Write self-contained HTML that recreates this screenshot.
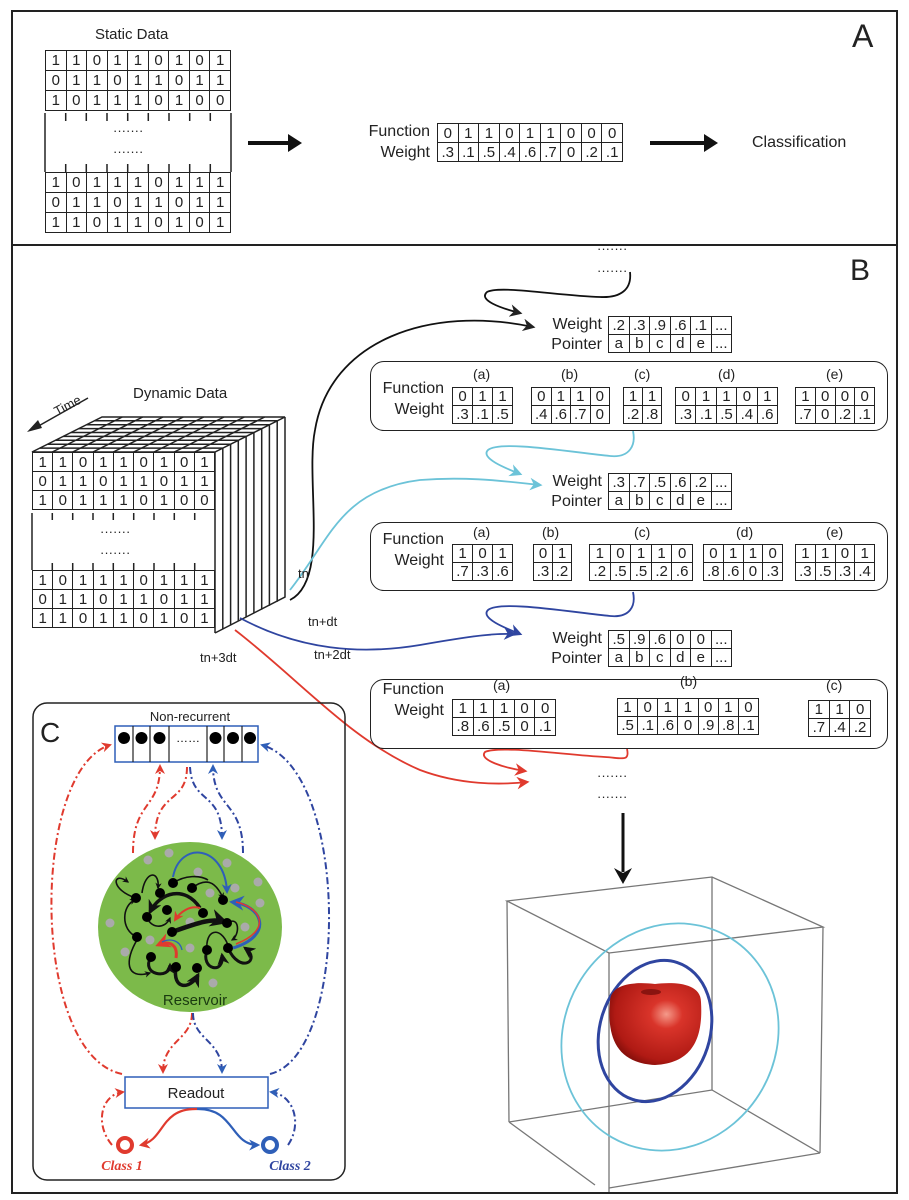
<!DOCTYPE html>
<html><head><meta charset="utf-8"><style>
body{margin:0;background:#fff}
#p{position:relative;width:909px;height:1200px;overflow:hidden;font-family:"Liberation Sans Narrow","Liberation Sans",sans-serif;color:#222}
svg{position:absolute;left:0;top:0}
table{position:absolute;border-collapse:collapse;table-layout:fixed}
td{border:1.5px solid #222;padding:0;text-align:center;font-size:15px;line-height:1;overflow:hidden}
.l{position:absolute;font-size:16px;white-space:nowrap}
.r{text-align:right}
.bx{position:absolute;border:1.5px solid #222;border-radius:14px}
</style></head><body><div id="p">
<svg width="909" height="1200" viewBox="0 0 909 1200">
<defs>
<marker id="ak" viewBox="0 0 10 10" refX="8" refY="5" markerWidth="7" markerHeight="7" orient="auto"><path d="M0,0L10,5L0,10L3,5z" fill="#222"/></marker>
<marker id="ac" viewBox="0 0 10 10" refX="8" refY="5" markerWidth="7" markerHeight="7" orient="auto"><path d="M0,0L10,5L0,10L3,5z" fill="#6cc3d8"/></marker>
<marker id="ab" viewBox="0 0 10 10" refX="8" refY="5" markerWidth="7" markerHeight="7" orient="auto"><path d="M0,0L10,5L0,10L3,5z" fill="#2f45a0"/></marker>
<marker id="ar" viewBox="0 0 10 10" refX="8" refY="5" markerWidth="7" markerHeight="7" orient="auto"><path d="M0,0L10,5L0,10L3,5z" fill="#e03a2e"/></marker>
<marker id="aB" viewBox="0 0 10 10" refX="8" refY="5" markerWidth="5" markerHeight="5" orient="auto"><path d="M0,0L10,5L0,10L3,5z" fill="#2f5fb8"/></marker>
<marker id="aR" viewBox="0 0 10 10" refX="8" refY="5" markerWidth="5" markerHeight="5" orient="auto"><path d="M0,0L10,5L0,10L3,5z" fill="#e03a2e"/></marker>
<marker id="as" viewBox="0 0 10 10" refX="8" refY="5" markerWidth="4" markerHeight="4" orient="auto"><path d="M0,0L10,5L0,10L3,5z" fill="#111"/></marker>
<radialGradient id="ap" cx="0.62" cy="0.38" r="0.7"><stop offset="0" stop-color="#f59a8a"/><stop offset="0.25" stop-color="#d9342a"/><stop offset="0.8" stop-color="#b01a14"/><stop offset="1" stop-color="#7a0c08"/></radialGradient>
</defs>
<rect x="12" y="11" width="885" height="234" fill="none" stroke="#222" stroke-width="2"/>
<rect x="12" y="245" width="885" height="948" fill="none" stroke="#222" stroke-width="2"/>
<g stroke="#222" stroke-width="1.5">
<line x1="45" y1="113" x2="45" y2="172"/><line x1="231" y1="113" x2="231" y2="172"/>
<path d="M65.7,113v8M86.3,113v8M107,113v8M127.7,113v8M148.3,113v8M169,113v8M189.7,113v8M210.3,113v8M65.7,172v-8M86.3,172v-8M107,172v-8M127.7,172v-8M148.3,172v-8M169,172v-8M189.7,172v-8M210.3,172v-8"/>
<line x1="32" y1="513" x2="32" y2="570"/>
<path d="M52.3,513v7M72.7,513v7M93,513v7M113.3,513v7M133.7,513v7M154,513v7M174.3,513v7M194.7,513v7M52.3,570v-7M72.7,570v-7M93,570v-7M113.3,570v-7M133.7,570v-7M154,570v-7M174.3,570v-7M194.7,570v-7"/>
</g>
<g stroke="#111" stroke-width="4"><line x1="248" y1="143" x2="292" y2="143"/><line x1="650" y1="143" x2="708" y2="143"/></g>
<path d="M288,134L302,143L288,152z M704,134L718,143L704,152z" fill="#111"/>
<g stroke="#222" stroke-width="1.5" fill="none">
<path d="M32,452L102,417L285,417L215,452z"/>
<path d="M52.3,452l70,-35M72.7,452l70,-35M93,452l70,-35M113.3,452l70,-35M133.7,452l70,-35M154,452l70,-35M174.3,452l70,-35M194.7,452l70,-35"/>
<path d="M39.8,448.1h183M47.6,444.2h183M55.3,440.3h183M63.1,436.4h183M70.9,432.5h183M78.7,428.6h183M86.4,424.7h183M94.2,420.8h183"/>
<path d="M285,417L285,597L215,633"/>
<path d="M222.8,448.1v181M230.6,444.2v181M238.3,440.3v181M246.1,436.4v181M253.9,432.5v181M261.7,428.6v181M269.4,424.7v181M277.2,420.8v181"/>
<line x1="215" y1="452" x2="215" y2="633"/>
<line x1="88" y1="398" x2="35" y2="428"/>
</g>
<path d="M27,432L38,420L42,428z" fill="#222"/>
<g fill="none" stroke-width="1.8">
<path d="M630,272C632,290 620,298 600,297C560,296 500,285 487,292C478,300 500,308 520,313" stroke="#111" marker-end="url(#ak)"/>
<path d="M290,600C330,580 305,480 315,430C330,340 430,305 533,327" stroke="#111" marker-end="url(#ak)"/>
<path d="M633,431C636,445 630,458 610,456C570,452 500,440 488,450C480,458 505,468 520,474" stroke="#6cc3d8" marker-end="url(#ac)"/>
<path d="M290,590C330,540 340,490 420,480C470,476 510,482 540,485" stroke="#6cc3d8" marker-end="url(#ac)"/>
<path d="M633,592C636,606 630,618 610,616C570,612 500,600 488,610C480,618 505,628 520,634" stroke="#2f45a0" marker-end="url(#ab)"/>
<path d="M240,618C300,650 360,655 420,645C460,638 490,633 514,634" stroke="#2f45a0" marker-end="url(#ab)"/>
<path d="M627,749C630,762 622,758 605,757C565,755 500,745 485,752C478,760 505,768 525,771" stroke="#e03a2e" marker-end="url(#ar)"/>
<path d="M235,630C300,680 350,740 420,770C460,785 500,785 527,782" stroke="#e03a2e" marker-end="url(#ar)"/>
</g>
<line x1="623" y1="813" x2="623" y2="872" stroke="#111" stroke-width="3"/>
<path d="M614,868L623,884L632,868L623,873z" fill="#111"/>
<g stroke="#777" stroke-width="1.3" fill="none">
<path d="M507,901L712,877L823,927L609,953z"/>
<path d="M507,901L509,1122M609,953L609,1192M712,877L712,1090M823,927L820,1153"/>
<path d="M509,1122L712,1090L820,1153M509,1122L595,1185M609,1188L820,1153"/>
</g>
<ellipse cx="670" cy="1037" rx="106" ry="116" transform="rotate(30 670 1037)" fill="none" stroke="#6cc3d8" stroke-width="1.8"/>
<ellipse cx="655" cy="1031" rx="55" ry="72" transform="rotate(18 655 1031)" fill="none" stroke="#2f45a0" stroke-width="3"/>
<path d="M610,1002C610,982 638,982 655,984C672,982 701,982 701,1002C703,1035 695,1063 655,1065C615,1063 607,1035 610,1002z" fill="url(#ap)"/>
<ellipse cx="651" cy="992" rx="10" ry="3" fill="#8a1410"/>
<rect x="33" y="703" width="312" height="477" rx="14" fill="none" stroke="#222" stroke-width="1.5"/>
<rect x="115" y="726" width="143" height="36" fill="#fff" stroke="#2f5fb8" stroke-width="1.5"/>
<path d="M133,726v36M150,726v36M169,726v36M207,726v36M224,726v36M242,726v36" stroke="#222" stroke-width="1.2"/>
<g fill="#000"><circle cx="124" cy="738" r="6"/><circle cx="141.5" cy="738" r="6"/><circle cx="159.5" cy="738" r="6"/><circle cx="215.5" cy="738" r="6"/><circle cx="233" cy="738" r="6"/><circle cx="250" cy="738" r="6"/></g>
<text x="188" y="742" font-size="12" text-anchor="middle" font-family="Liberation Sans">……</text>
<ellipse cx="190" cy="927" rx="92" ry="85" fill="#7cba4a"/>
<g fill="#aaa"><circle cx="148" cy="860" r="4.5"/><circle cx="169" cy="853" r="4.5"/><circle cx="227" cy="863" r="4.5"/><circle cx="198" cy="872" r="4.5"/><circle cx="210" cy="893" r="4.5"/><circle cx="235" cy="888" r="4.5"/><circle cx="258" cy="882" r="4.5"/><circle cx="260" cy="903" r="4.5"/><circle cx="110" cy="923" r="4.5"/><circle cx="150" cy="940" r="4.5"/><circle cx="190" cy="922" r="4.5"/><circle cx="190" cy="948" r="4.5"/><circle cx="125" cy="952" r="4.5"/><circle cx="245" cy="927" r="4.5"/><circle cx="213" cy="983" r="4.5"/></g>
<g fill="none" stroke="#111" stroke-width="1.6">
<path d="M136,898C110,890 112,870 128,882" marker-end="url(#as)"/>
<path d="M142,893C145,870 160,870 158,888" marker-end="url(#as)"/>
<path d="M192,888C205,878 215,880 223,898" marker-end="url(#as)"/>
<path d="M173,883C185,875 200,875 208,880"/>
<path d="M200,908C185,885 160,892 150,912" stroke-width="3.5" marker-end="url(#as)"/>
<path d="M172,932C200,922 212,918 225,922" stroke-width="4.5" marker-end="url(#as)"/>
<path d="M137,937C120,930 122,905 135,900" marker-end="url(#as)"/>
<path d="M137,940C125,960 125,980 150,973" marker-end="url(#as)"/>
<path d="M151,957C140,975 170,980 170,965" stroke-width="3" marker-end="url(#as)"/>
<path d="M176,967C172,990 190,990 198,975" stroke-width="3.5" marker-end="url(#as)"/>
<path d="M207,950C200,970 225,975 222,955" stroke-width="3" marker-end="url(#as)"/>
<path d="M228,948C240,975 262,960 245,948" stroke-width="3" marker-end="url(#as)"/>
<path d="M227,923C240,915 240,935 232,940" marker-end="url(#as)"/>
<path d="M147,917C150,928 165,930 170,918" marker-end="url(#as)"/>
<path d="M207,950C205,930 220,925 228,945"/>
</g>
<g fill="#000"><circle cx="136" cy="898" r="5"/><circle cx="160" cy="893" r="5"/><circle cx="173" cy="883" r="5"/><circle cx="192" cy="888" r="5"/><circle cx="223" cy="900" r="5"/><circle cx="147" cy="917" r="5"/><circle cx="167" cy="910" r="5"/><circle cx="203" cy="913" r="5"/><circle cx="172" cy="932" r="5"/><circle cx="137" cy="937" r="5"/><circle cx="227" cy="923" r="5"/><circle cx="207" cy="950" r="5"/><circle cx="228" cy="948" r="5"/><circle cx="151" cy="957" r="5"/><circle cx="176" cy="967" r="5"/><circle cx="197" cy="968" r="5"/></g>
<g fill="none" stroke-width="2">
<path d="M173,877C180,840 225,845 227,892" stroke="#2f5fb8" marker-end="url(#aB)"/>
<path d="M233,948C275,935 262,905 232,902" stroke="#2f5fb8" stroke-width="3" marker-end="url(#aB)"/>
<path d="M236,944C272,930 262,908 236,902" stroke="#e03a2e" stroke-width="1.5"/>
<path d="M200,908C190,905 180,912 175,920" stroke="#e03a2e" marker-end="url(#aR)"/>
<path d="M176,958C178,945 170,940 158,945" stroke="#e03a2e" stroke-width="3" marker-end="url(#aR)"/>
<path d="M182,950C180,940 170,938 162,942" stroke="#2f5fb8" stroke-width="1.3"/>
</g>
<rect x="125" y="1077" width="143" height="31" fill="#fff" stroke="#2f5fb8" stroke-width="1.5"/>
<g fill="none" stroke-width="2" stroke-dasharray="7,3,2,3">
<path d="M122,1074C30,1055 30,770 110,745" stroke="#e03a2e" marker-end="url(#aR)"/>
<path d="M270,1074C350,1055 350,770 262,745" stroke="#2f45a0" marker-end="url(#aB)"/>
<path d="M133,853C133,800 160,810 160,766" stroke="#e03a2e" marker-end="url(#aR)"/>
<path d="M187,767C187,805 155,790 155,838" stroke="#e03a2e" marker-end="url(#aR)"/>
<path d="M190,767C192,805 222,790 222,838" stroke="#2f45a0" marker-end="url(#aB)"/>
<path d="M243,853C243,800 213,810 213,766" stroke="#2f45a0" marker-end="url(#aB)"/>
<path d="M192,1013C192,1040 163,1040 163,1072" stroke="#e03a2e" marker-end="url(#aR)"/>
<path d="M193,1013C193,1040 222,1040 222,1072" stroke="#2f45a0" marker-end="url(#aB)"/>
<path d="M112,1145C95,1125 100,1095 123,1092" stroke="#e03a2e" marker-end="url(#aR)"/>
<path d="M288,1145C302,1125 295,1095 271,1092" stroke="#2f45a0" marker-end="url(#aB)"/>
</g>
<g fill="none" stroke-width="2.2">
<path d="M197,1109C160,1108 165,1140 141,1145" stroke="#e03a2e" marker-end="url(#aR)"/>
<path d="M197,1109C235,1108 230,1145 258,1145" stroke="#2f5fb8" marker-end="url(#aB)"/>
</g>
<circle cx="125" cy="1145" r="7" fill="#fff" stroke="#e03a2e" stroke-width="4"/>
<circle cx="270" cy="1145" r="7" fill="#fff" stroke="#2f5fb8" stroke-width="4"/>
<text x="122" y="1170" font-family="Liberation Serif" font-style="italic" font-weight="bold" font-size="14" fill="#e03a2e" text-anchor="middle">Class 1</text>
<text x="290" y="1170" font-family="Liberation Serif" font-style="italic" font-weight="bold" font-size="14" fill="#2f45a0" text-anchor="middle">Class 2</text>
<text x="196" y="1098" font-family="Liberation Sans" font-size="15" text-anchor="middle" fill="#222">Readout</text>
<text x="195" y="1005" font-family="Liberation Sans" font-size="15" text-anchor="middle" fill="#1a3a10">Reservoir</text>
<text x="190" y="721" font-family="Liberation Sans" font-size="13" text-anchor="middle" fill="#222">Non-recurrent</text>
<text x="40" y="742" font-family="Liberation Sans" font-size="28" fill="#222">C</text>
<text x="57" y="416" font-family="Liberation Sans" font-size="13" fill="#222" transform="rotate(-28 57 416)">Time</text>
</svg>

<div class="l" style="left:95px;top:26px;font-size:15px">Static Data</div>
<table style="left:45px;top:50px;width:186px"><tr><td style="height:19px">1</td><td>1</td><td>0</td><td>1</td><td>1</td><td>0</td><td>1</td><td>0</td><td>1</td></tr><tr><td style="height:19px">0</td><td>1</td><td>1</td><td>0</td><td>1</td><td>1</td><td>0</td><td>1</td><td>1</td></tr><tr><td style="height:19px">1</td><td>0</td><td>1</td><td>1</td><td>1</td><td>0</td><td>1</td><td>0</td><td>0</td></tr></table>
<div class="l" style="left:113px;top:123px;font-size:13px">·······</div>
<div class="l" style="left:113px;top:144px;font-size:13px">·······</div>
<table style="left:45px;top:172px;width:186px"><tr><td style="height:19px">1</td><td>0</td><td>1</td><td>1</td><td>1</td><td>0</td><td>1</td><td>1</td><td>1</td></tr><tr><td style="height:19px">0</td><td>1</td><td>1</td><td>0</td><td>1</td><td>1</td><td>0</td><td>1</td><td>1</td></tr><tr><td style="height:19px">1</td><td>1</td><td>0</td><td>1</td><td>1</td><td>0</td><td>1</td><td>0</td><td>1</td></tr></table>
<div class="l r" style="left:340px;width:90px;top:123px">Function</div>
<div class="l r" style="left:340px;width:90px;top:144px">Weight</div>
<table style="left:437px;top:123px;width:186px"><tr><td style="height:18px">0</td><td>1</td><td>1</td><td>0</td><td>1</td><td>1</td><td>0</td><td>0</td><td>0</td></tr><tr><td style="height:18px">.3</td><td>.1</td><td>.5</td><td>.4</td><td>.6</td><td>.7</td><td>0</td><td>.2</td><td>.1</td></tr></table>
<div class="l" style="left:752px;top:134px">Classification</div>
<div class="l" style="left:852px;top:18px;font-size:32px;font-family:'Liberation Sans'">A</div>
<div class="l" style="left:850px;top:254px;font-size:30px;font-family:'Liberation Sans'">B</div>

<div class="l" style="left:597px;top:241px;font-size:13px">·······</div>
<div class="l" style="left:597px;top:263px;font-size:13px">·······</div>
<div class="l" style="left:597px;top:768px;font-size:13px">·······</div>
<div class="l" style="left:597px;top:789px;font-size:13px">·······</div>

<div class="l" style="left:133px;top:385px;font-size:15px">Dynamic Data</div>
<table style="left:32px;top:452px;width:183px"><tr><td style="height:18px">1</td><td>1</td><td>0</td><td>1</td><td>1</td><td>0</td><td>1</td><td>0</td><td>1</td></tr><tr><td style="height:18px">0</td><td>1</td><td>1</td><td>0</td><td>1</td><td>1</td><td>0</td><td>1</td><td>1</td></tr><tr><td style="height:18px">1</td><td>0</td><td>1</td><td>1</td><td>1</td><td>0</td><td>1</td><td>0</td><td>0</td></tr></table>
<div class="l" style="left:100px;top:524px;font-size:13px">·······</div>
<div class="l" style="left:100px;top:545px;font-size:13px">·······</div>
<table style="left:32px;top:570px;width:183px"><tr><td style="height:18px">1</td><td>0</td><td>1</td><td>1</td><td>1</td><td>0</td><td>1</td><td>1</td><td>1</td></tr><tr><td style="height:18px">0</td><td>1</td><td>1</td><td>0</td><td>1</td><td>1</td><td>0</td><td>1</td><td>1</td></tr><tr><td style="height:18px">1</td><td>1</td><td>0</td><td>1</td><td>1</td><td>0</td><td>1</td><td>0</td><td>1</td></tr></table>
<div class="l" style="left:298px;top:566px;font-size:13px">tn</div>
<div class="l" style="left:308px;top:614px;font-size:13px">tn+dt</div>
<div class="l" style="left:314px;top:647px;font-size:13px">tn+2dt</div>
<div class="l" style="left:200px;top:650px;font-size:13px">tn+3dt</div>

<div class="l r" style="left:520px;width:82px;top:316px">Weight</div>
<div class="l r" style="left:520px;width:82px;top:336px">Pointer</div>
<table style="left:608px;top:316px;width:124px"><tr><td style="height:17px">.2</td><td>.3</td><td>.9</td><td>.6</td><td>.1</td><td>...</td></tr><tr><td style="height:17px">a</td><td>b</td><td>c</td><td>d</td><td>e</td><td>...</td></tr></table>
<div class="bx" style="left:370px;top:361px;width:516px;height:68px"></div>
<div class="l r" style="left:360px;width:84px;top:380px">Function</div>
<div class="l r" style="left:360px;width:84px;top:401px">Weight</div>
<div class="l" style="left:473px;top:366px;font-size:14px">(a)</div>
<div class="l" style="left:561px;top:366px;font-size:14px">(b)</div>
<div class="l" style="left:634px;top:366px;font-size:14px">(c)</div>
<div class="l" style="left:718px;top:366px;font-size:14px">(d)</div>
<div class="l" style="left:826px;top:366px;font-size:14px">(e)</div>
<table style="left:452px;top:387px;width:61px"><tr><td style="height:17px">0</td><td>1</td><td>1</td></tr><tr><td style="height:17px">.3</td><td>.1</td><td>.5</td></tr></table>
<table style="left:531px;top:387px;width:79px"><tr><td style="height:17px">0</td><td>1</td><td>1</td><td>0</td></tr><tr><td style="height:17px">.4</td><td>.6</td><td>.7</td><td>0</td></tr></table>
<table style="left:623px;top:387px;width:39px"><tr><td style="height:17px">1</td><td>1</td></tr><tr><td style="height:17px">.2</td><td>.8</td></tr></table>
<table style="left:675px;top:387px;width:103px"><tr><td style="height:17px">0</td><td>1</td><td>1</td><td>0</td><td>1</td></tr><tr><td style="height:17px">.3</td><td>.1</td><td>.5</td><td>.4</td><td>.6</td></tr></table>
<table style="left:795px;top:387px;width:80px"><tr><td style="height:17px">1</td><td>0</td><td>0</td><td>0</td></tr><tr><td style="height:17px">.7</td><td>0</td><td>.2</td><td>.1</td></tr></table>

<div class="l r" style="left:520px;width:82px;top:473px">Weight</div>
<div class="l r" style="left:520px;width:82px;top:493px">Pointer</div>
<table style="left:608px;top:473px;width:124px"><tr><td style="height:17px">.3</td><td>.7</td><td>.5</td><td>.6</td><td>.2</td><td>...</td></tr><tr><td style="height:17px">a</td><td>b</td><td>c</td><td>d</td><td>e</td><td>...</td></tr></table>
<div class="bx" style="left:370px;top:522px;width:516px;height:67px"></div>
<div class="l r" style="left:360px;width:84px;top:531px">Function</div>
<div class="l r" style="left:360px;width:84px;top:552px">Weight</div>
<div class="l" style="left:473px;top:524px;font-size:14px">(a)</div>
<div class="l" style="left:542px;top:524px;font-size:14px">(b)</div>
<div class="l" style="left:634px;top:524px;font-size:14px">(c)</div>
<div class="l" style="left:736px;top:524px;font-size:14px">(d)</div>
<div class="l" style="left:826px;top:524px;font-size:14px">(e)</div>
<table style="left:452px;top:544px;width:61px"><tr><td style="height:17px">1</td><td>0</td><td>1</td></tr><tr><td style="height:17px">.7</td><td>.3</td><td>.6</td></tr></table>
<table style="left:533px;top:544px;width:39px"><tr><td style="height:17px">0</td><td>1</td></tr><tr><td style="height:17px">.3</td><td>.2</td></tr></table>
<table style="left:589px;top:544px;width:104px"><tr><td style="height:17px">1</td><td>0</td><td>1</td><td>1</td><td>0</td></tr><tr><td style="height:17px">.2</td><td>.5</td><td>.5</td><td>.2</td><td>.6</td></tr></table>
<table style="left:703px;top:544px;width:80px"><tr><td style="height:17px">0</td><td>1</td><td>1</td><td>0</td></tr><tr><td style="height:17px">.8</td><td>.6</td><td>0</td><td>.3</td></tr></table>
<table style="left:795px;top:544px;width:80px"><tr><td style="height:17px">1</td><td>1</td><td>0</td><td>1</td></tr><tr><td style="height:17px">.3</td><td>.5</td><td>.3</td><td>.4</td></tr></table>

<div class="l r" style="left:520px;width:82px;top:630px">Weight</div>
<div class="l r" style="left:520px;width:82px;top:650px">Pointer</div>
<table style="left:608px;top:630px;width:124px"><tr><td style="height:17px">.5</td><td>.9</td><td>.6</td><td>0</td><td>0</td><td>...</td></tr><tr><td style="height:17px">a</td><td>b</td><td>c</td><td>d</td><td>e</td><td>...</td></tr></table>
<div class="bx" style="left:370px;top:679px;width:516px;height:68px"></div>
<div class="l r" style="left:360px;width:84px;top:681px">Function</div>
<div class="l r" style="left:360px;width:84px;top:702px">Weight</div>
<div class="l" style="left:493px;top:677px;font-size:14px">(a)</div>
<div class="l" style="left:680px;top:673px;font-size:14px">(b)</div>
<div class="l" style="left:826px;top:677px;font-size:14px">(c)</div>
<table style="left:452px;top:699px;width:104px"><tr><td style="height:17px">1</td><td>1</td><td>1</td><td>0</td><td>0</td></tr><tr><td style="height:17px">.8</td><td>.6</td><td>.5</td><td>0</td><td>.1</td></tr></table>
<table style="left:617px;top:698px;width:142px"><tr><td style="height:17px">1</td><td>0</td><td>1</td><td>1</td><td>0</td><td>1</td><td>0</td></tr><tr><td style="height:17px">.5</td><td>.1</td><td>.6</td><td>0</td><td>.9</td><td>.8</td><td>.1</td></tr></table>
<table style="left:808px;top:700px;width:63px"><tr><td style="height:17px">1</td><td>1</td><td>0</td></tr><tr><td style="height:17px">.7</td><td>.4</td><td>.2</td></tr></table>
</div></body></html>
